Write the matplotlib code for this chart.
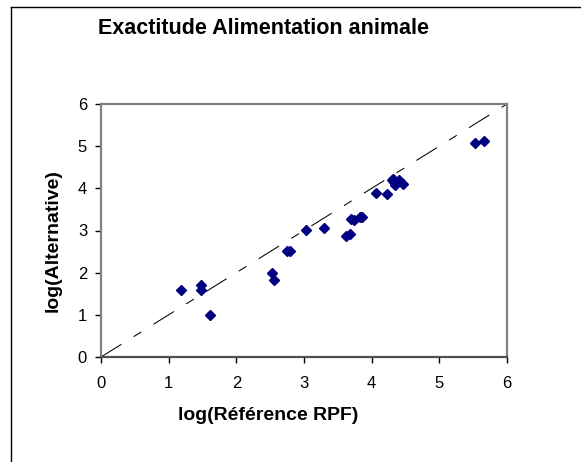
import matplotlib
matplotlib.use("Agg")
import matplotlib.pyplot as plt
from matplotlib.lines import Line2D

plt.rcParams["font.family"] = ["Liberation Sans", "DejaVu Sans"]
plt.rcParams["lines.scale_dashes"] = False

# values
ref_rpf = [1.18, 1.48, 1.48, 1.61, 2.52, 2.55, 2.75, 2.80, 3.03, 3.30,
           3.62, 3.68, 3.70, 3.74, 3.83, 3.86, 4.06, 4.22, 4.30, 4.33,
           4.35, 4.40, 4.47, 4.31, 5.52, 5.66]
alternative = [1.59, 1.70, 1.59, 0.99, 1.99, 1.83, 2.52, 2.52, 3.02, 3.06,
               2.86, 2.92, 3.28, 3.24, 3.33, 3.33, 3.88, 3.87, 4.20, 4.14,
               4.08, 4.20, 4.10, 4.23, 5.07, 5.13]
identity = [0, 6]
ticks = [0, 1, 2, 3, 4, 5, 6]

fig = plt.figure(figsize=(5.81, 4.62), dpi=100)
ax = fig.add_axes([101 / 581, 1 - 357 / 462, 406 / 581, 253 / 462])

# y = x reference line
ax.plot(identity, identity, color="black", linewidth=0.75,
        dashes=[17.3, 10.4, 6.5, 10.4])

# data points
ax.plot(ref_rpf, alternative, linestyle="none", marker="D",
        markersize=5, color="#000080")

ax.set_xlim(0, 6)
ax.set_ylim(0, 6)
ax.set_xticks(ticks)
ax.set_yticks(ticks)
ax.tick_params(direction="out", length=4, width=1, labelsize=12,
               colors="black")
ax.tick_params(axis="x", pad=10)
ax.tick_params(axis="y", pad=6)

for side in ["top", "right", "left"]:
    ax.spines[side].set_color("#808080")
    ax.spines[side].set_linewidth(1.6)
ax.spines["bottom"].set_color("#505050")
ax.spines["bottom"].set_linewidth(1.6)

# title and axis labels placed like the original chart
fig.text(264 / 581, 1 - 29 / 462, "Exactitude Alimentation animale",
         fontsize=15.5, fontweight="bold", ha="center", va="center")
fig.text(268 / 581, 1 - 416 / 462, "log(Référence RPF)",
         fontsize=14, fontweight="bold", ha="center", va="center")
fig.text(53 / 581, 1 - 241 / 462, "log(Alternative)", rotation=90,
         fontsize=14, fontweight="bold", ha="center", va="center")

# chart area border (only top and left visible)
fig.add_artist(Line2D([11 / 581, 1], [1 - 7 / 462, 1 - 7 / 462],
                      color="black", linewidth=1, transform=fig.transFigure))
fig.add_artist(Line2D([11 / 581, 11 / 581], [0, 1 - 7 / 462],
                      color="black", linewidth=1, transform=fig.transFigure))

fig.savefig("out.png", dpi=100)
